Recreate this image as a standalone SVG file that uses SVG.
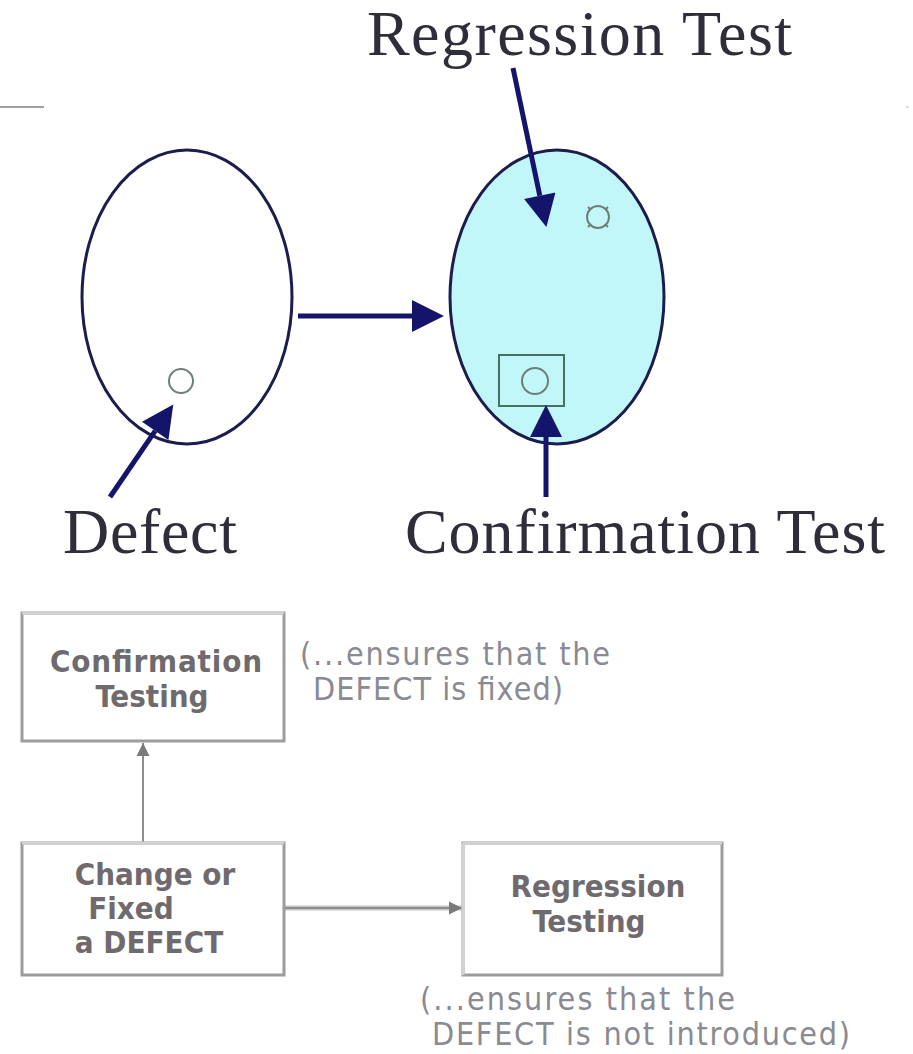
<svg xmlns="http://www.w3.org/2000/svg" width="913" height="1054" viewBox="0 0 913 1054">
<style>
.serif{font-family:"Liberation Serif","Times New Roman",serif;font-size:64px;fill:#2e2e3a}
.ell{stroke:#1c1c4e;stroke-width:3}
.navy{stroke:#14146a;stroke-width:5;fill:none}
.dot{fill:none;stroke:#6f7f78;stroke-width:2}
.box{fill:#fff;stroke:#9c9c9c;stroke-width:3}
.boxtop{stroke:#d2d2d2;stroke-width:3}
.bt{font-family:"DejaVu Sans Condensed","DejaVu Sans",Verdana,sans-serif;font-weight:bold;font-size:31px;fill:#6e6a6e;text-anchor:middle}
.note{font-family:"DejaVu Sans Condensed","DejaVu Sans",Verdana,sans-serif;font-size:32px;fill:#8a8a92}
.gray{stroke:#8e8e8e;stroke-width:2;fill:none}
</style>
<defs>
<marker id="nav" viewBox="0 0 10 10" refX="0" refY="5" markerWidth="35" markerHeight="32" markerUnits="userSpaceOnUse" orient="auto">
<path d="M0,0 L10,5 L0,10 z" fill="#14146a"/>
</marker>
<marker id="gr" viewBox="0 0 10 10" refX="10" refY="5" markerWidth="13" markerHeight="14" markerUnits="userSpaceOnUse" orient="auto">
<path d="M0,0 L10,5 L0,10 z" fill="#7a7a7a"/>
</marker>
</defs>
<rect width="913" height="1054" fill="#fff"/>
<line x1="0" y1="107" x2="44" y2="107" stroke="#a0a0a0" stroke-width="2"/>
<line x1="906" y1="107" x2="909" y2="107" stroke="#c0c0c0" stroke-width="1"/>

<g id="label-regression-test"><text class="serif" x="367" y="55" textLength="425">Regression Test</text></g>
<g id="label-defect"><text class="serif" x="63" y="553" textLength="174">Defect</text></g>
<g id="label-confirmation-test"><text class="serif" x="405" y="553" textLength="480">Confirmation Test</text></g>

<g id="before">
<ellipse class="ell" cx="187" cy="297" rx="105" ry="147" fill="#fff"/>
<circle class="dot" cx="181" cy="381" r="12" stroke="#777"/>
</g>
<g id="after">
<ellipse class="ell" cx="557" cy="297" rx="107" ry="147" fill="#c2f7fa"/>
<circle class="dot" cx="598" cy="217" r="11"/>
<path class="dot" d="M588,207 l3,3 M608,207 l-3,3 M588,227 l3,-3 M608,227 l-3,-3" stroke-width="1.5"/>
<rect x="499" y="355" width="65" height="51" fill="none" stroke="#46705f" stroke-width="2"/>
<circle class="dot" cx="535" cy="381" r="13"/>
</g>

<g id="connectors">
<line class="navy" x1="298" y1="316" x2="412" y2="316" marker-end="url(#nav)"/>
<line class="navy" x1="513" y1="68" x2="539.8" y2="195.7" marker-end="url(#nav)"/>
<line class="navy" x1="110" y1="497" x2="155.2" y2="430.9" marker-end="url(#nav)"/>
<line class="navy" x1="546" y1="497" x2="546" y2="437" marker-end="url(#nav)"/>
<line class="gray" x1="143" y1="843" x2="143" y2="743" marker-end="url(#gr)"/>
<line x1="285" y1="908" x2="462" y2="908" stroke="#c4c4c4" stroke-width="5"/>
<line class="gray" x1="285" y1="908" x2="462" y2="908" stroke="#9a9a9a" stroke-width="2" marker-end="url(#gr)"/>
</g>

<g id="confirmation-testing">
<rect class="box" x="22" y="613" width="262" height="128"/>
<line class="boxtop" x1="22" y1="613" x2="284" y2="613"/>
<text class="bt" x="156" y="672" textLength="212">Confirmation</text>
<text class="bt" x="152" y="707">Testing</text>
</g>
<g id="note-confirmation">
<text class="note" x="300" y="665" textLength="310">(...ensures that the</text>
<text class="note" x="313" y="700" textLength="250">DEFECT is fixed)</text>
</g>
<g id="change-fixed">
<rect class="box" x="22" y="843" width="262" height="132"/>
<line class="boxtop" x1="22" y1="843" x2="284" y2="843"/>
<text class="bt" x="155" y="885">Change or</text>
<text class="bt" x="131" y="919">Fixed</text>
<text class="bt" x="149" y="953">a DEFECT</text>
</g>
<g id="regression-testing">
<rect class="box" x="463" y="843" width="259" height="132"/>
<line class="boxtop" x1="463" y1="843" x2="722" y2="843"/>
<line class="boxtop" x1="463" y1="843" x2="463" y2="975"/>
<text class="bt" x="598" y="897">Regression</text>
<text class="bt" x="589" y="932">Testing</text>
</g>
<g id="note-regression">
<text class="note" x="420" y="1010" textLength="315">(...ensures that the</text>
<text class="note" x="432" y="1045" textLength="418">DEFECT is not introduced)</text>
</g>
</svg>
